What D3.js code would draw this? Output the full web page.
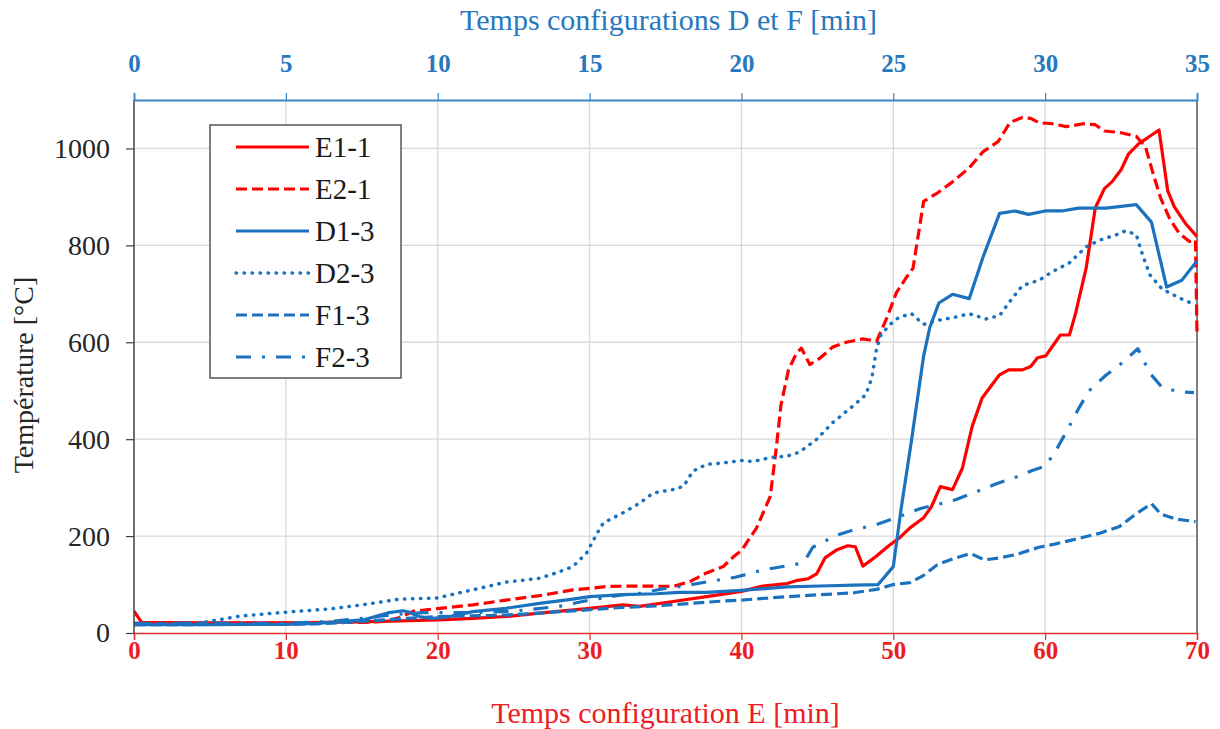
<!DOCTYPE html>
<html><head><meta charset="utf-8">
<script src="https://cdn.jsdelivr.net/npm/d3@7"></script>
<style>body{margin:0;background:#fff}svg{display:block}
svg text{font-family:"Liberation Serif","Times New Roman","DejaVu Serif",serif;}</style>
</head><body><svg id="c" width="1220" height="729"></svg>
<script>
// ---- data ----
// E series: time in "configuration E" minutes (bottom axis)
const E1_1 = [[0,45],[0.5,22],[5,21],[10,21],[15,23],[20,27],[22.3,30],[24.5,34],[26.7,41],[30,51],[32.2,58],[33.3,55],[35.5,65],[37.7,75],[40,86],[41.4,97],[43,102],[43.6,108],[44.4,112],[44.95,122],[45.5,155],[46.3,172],[47,180],[47.5,178],[48,138],[48.9,159],[49.7,180],[50.4,196],[51.1,217],[52,238],[52.5,260],[53.1,302],[53.9,296],[54.55,340],[55.2,427],[55.85,485],[56.97,532],[57.6,543],[58.5,543],[59.05,550],[59.5,568],[60.04,572],[60.6,597],[61,615],[61.6,615],[62,659],[62.7,753],[63.3,877],[63.9,917],[64.4,931],[65,956],[65.5,989],[66.2,1011],[66.75,1022],[67.5,1038],[68.07,913],[68.5,880],[69.27,844],[70,818]];
const E2_1 = [[0,20],[5,20],[10,21],[15,22],[16.5,24],[17.5,32],[18.4,45],[20.15,51],[22.3,58],[24.5,68],[26.7,77],[28.9,89],[30,92],[31.1,96],[33.3,97],[35.5,96],[36.6,106],[37.7,124],[38.8,137],[39.5,158],[40,170],[41,217],[41.9,282],[42.3,383],[42.6,470],[43.1,543],[43.6,576],[43.95,588],[44.5,554],[45.2,568],[46,590],[46.9,600],[48,607],[48.9,602],[49.6,652],[50.2,702],[50.8,731],[51.3,753],[52,891],[52.9,908],[53.9,931],[55,960],[55.9,993],[56.9,1014],[57.7,1054],[58.5,1064],[59.05,1062],[59.6,1053],[60.5,1051],[61.4,1045],[62.5,1051],[63.3,1049],[63.9,1036],[64.9,1033],[66,1025],[66.6,1004],[67.1,949],[67.6,898],[68.2,855],[68.8,826],[69.5,808],[69.9,811],[70,616]];
// D and F series: time in "configurations D et F" minutes (top axis)
const D1_3 = [[0,17],[2.5,17],[5,18],[6,20],[7.55,27],[8.4,42],[8.85,46],[9.05,43],[9.4,34],[9.75,30],[10.25,32],[11.15,44],[12.25,51],[13.35,61],[14.45,70],[15,75],[16.1,79],[17.2,81],[17.95,84],[18.85,84],[20,88],[21.5,95],[22.6,97],[23.7,99],[24.5,100],[25,137],[25.25,253],[25.6,398],[26,572],[26.2,630],[26.5,681],[26.95,699],[27.5,690],[27.95,775],[28.5,866],[29,871],[29.45,864],[30,871],[30.55,871],[31.1,877],[32,877],[33,884],[33.5,848],[34,714],[34.5,728],[35,768]];
const D2_3 = [[0,18],[2.2,21],[3.5,35],[5,43],[6.5,50],[7.5,58],[8.75,70],[9.95,72],[11.15,89],[12.25,105],[13.35,113],[13.9,124],[14.45,137],[14.9,165],[15.25,206],[15.45,227],[16.1,248],[16.65,268],[17.1,289],[17.75,296],[18.1,303],[18.4,334],[18.85,348],[19.4,351],[20,356],[20.4,354],[20.95,362],[21.5,365],[21.9,373],[22.45,398],[23,434],[23.7,470],[24.1,492],[24.3,528],[24.45,587],[24.6,616],[24.9,637],[25.2,652],[25.6,659],[26,637],[26.45,645],[27.05,652],[27.5,659],[28.05,648],[28.5,655],[28.8,681],[29.25,717],[29.8,728],[30.25,746],[30.8,764],[31.35,797],[31.8,811],[32.35,822],[32.65,830],[33,822],[33.2,782],[33.45,739],[33.85,710],[34.4,692],[34.95,677]];
const F1_3 = [[0,17],[5,18],[6,19],[7,22],[8,26],[9,30],[10,34],[12.25,37],[13.35,41],[15,48],[16.1,53],[17.2,56],[18.3,61],[19.4,66],[20,68],[21.5,75],[22.6,79],[23.7,83],[24.45,90],[25,100],[25.55,104],[26,119],[26.45,141],[27.05,155],[27.55,164],[28,151],[28.5,155],[29.05,162],[29.8,177],[30.35,184],[31.1,195],[31.8,206],[32.45,220],[33,246],[33.5,267],[33.8,246],[34.3,235],[34.95,230]];
const F2_3 = [[0,20],[5,20],[6.5,24],[7.5,30],[8.5,38],[9.5,42],[11,42],[12.5,45],[14,55],[15,68],[16.1,79],[16.65,82],[17.5,92],[18,96],[19,107],[19.8,115],[20.7,130],[21.9,143],[22.1,151],[22.35,177],[23.15,202],[23.7,213],[24.45,224],[25.1,238],[25.9,257],[26.5,266],[27.05,275],[27.8,293],[28.35,307],[29.05,322],[29.6,336],[30,344],[30.35,376],[30.8,427],[31.1,463],[31.45,500],[32,532],[32.55,558],[33.05,587],[33.45,536],[33.85,507],[34.4,498],[34.9,496]];

const bottomTicks = [0,10,20,30,40,50,60,70];
const topTicks = [0,5,10,15,20,25,30,35];
const yTicks = [0,200,400,600,800,1000];
const seriesNames = ["E1-1","E2-1","D1-3","D2-3","F1-3","F2-3"];
const seriesAxis = ["bottom","bottom","top","top","top","top"];
const seriesData = [E1_1,E2_1,D1_3,D2_3,F1_3,F2_3];

// ---- styles ----
const RED = "#FF0000", BLUE = "#1B72BF";
const styles = [
  {c:RED, dash:null, cap:"butt"},
  {c:RED, dash:"11 5", cap:"butt"},
  {c:BLUE, dash:null, cap:"butt"},
  {c:BLUE, dash:"0.5 7.5", cap:"round"},
  {c:BLUE, dash:"11 5", cap:"butt"},
  {c:BLUE, dash:"15 11 3 11", cap:"butt"}
];

const L=134, R=1197, T=100, B=633;
const svg = d3.select("#c");
const xB = d3.scaleLinear().domain([0,70]).range([L,R]);
const xT = d3.scaleLinear().domain([0,35]).range([L,R]);
const y = d3.scaleLinear().domain([0,1100]).range([B,T]);

// grid
const g = svg.append("g");
g.selectAll("line.h").data(yTicks.filter(d=>d>0)).join("line")
  .attr("x1",L).attr("x2",R).attr("y1",d=>y(d)).attr("y2",d=>y(d))
  .attr("stroke","#d9d9d9").attr("stroke-width",1.3);
g.selectAll("line.v").data(bottomTicks.filter(d=>d>0&&d<70)).join("line")
  .attr("y1",T).attr("y2",B).attr("x1",d=>xB(d)).attr("x2",d=>xB(d))
  .attr("stroke","#d9d9d9").attr("stroke-width",1.3);

// right border
svg.append("line").attr("x1",R).attr("x2",R).attr("y1",T).attr("y2",B).attr("stroke","#555").attr("stroke-width",1.5);

// lines
svg.append("clipPath").attr("id","clip").append("rect").attr("x",L).attr("y",T-20).attr("width",R-L+2).attr("height",B-T+20);
const lines = svg.append("g").attr("clip-path","url(#clip)");
seriesData.forEach((data,i)=>{
  const xs = seriesAxis[i]==="bottom"?xB:xT;
  const line = d3.line().x(d=>xs(d[0])).y(d=>y(d[1]));
  const st = styles[i];
  lines.append("path").datum(data).attr("d",line)
    .attr("fill","none").attr("stroke",st.c).attr("stroke-width",i===3?3.5:3.2)
    .attr("stroke-dasharray",st.dash).attr("stroke-linecap",st.cap).attr("stroke-linejoin","round");
});

// left axis
const ya = svg.append("g").attr("transform",`translate(${L},0)`)
  .call(d3.axisLeft(y).tickValues(yTicks).tickFormat(d3.format("d")).tickSize(8).tickPadding(16));
ya.attr("font-family",null);
ya.select(".domain").attr("stroke","#404040").attr("stroke-width",1.5).attr("d",`M0,${T}V${B}`);
ya.selectAll(".tick line").attr("stroke","#404040").attr("stroke-width",1.2);
ya.selectAll("text").attr("font-size",28).attr("fill","#262626");

// bottom axis
const xa = svg.append("g").attr("transform",`translate(0,${B})`)
  .call(d3.axisBottom(xB).tickValues(bottomTicks).tickFormat(d3.format("d")).tickSize(7).tickPadding(1));
xa.attr("font-family",null);
xa.select(".domain").attr("stroke","#E03030").attr("stroke-width",1.5);
xa.selectAll(".tick line").attr("stroke","#E03030").attr("stroke-width",1.2);
xa.selectAll("text").attr("font-size",25).attr("font-weight","bold").attr("fill","#EE1C25");

// top axis
const ta = svg.append("g").attr("transform",`translate(0,${T})`)
  .call(d3.axisTop(xT).tickValues(topTicks).tickFormat(d3.format("d")).tickSize(7).tickPadding(21));
ta.attr("font-family",null);
ta.select(".domain").attr("stroke","#3A84C4").attr("stroke-width",1.8);
ta.selectAll(".tick line").attr("stroke","#3A84C4").attr("stroke-width",1.2);
ta.selectAll("text").attr("font-size",25).attr("font-weight","bold").attr("fill","#2878BE");

// titles
svg.append("text").attr("x",(L+R)/2 + 3).attr("y",30).attr("text-anchor","middle")
  .attr("font-size",30).attr("fill","#2878BE").text("Temps configurations D et F [min]");
svg.append("text").attr("x",(L+R)/2).attr("y",723).attr("text-anchor","middle")
  .attr("font-size",30).attr("fill","#EE1C25").text("Temps configuration E [min]");
svg.append("text").attr("transform","translate(33,375) rotate(-90)").attr("text-anchor","middle")
  .attr("font-size",28).attr("fill","#262626").text("Température [°C]");

// legend
const lg = svg.append("g");
lg.append("rect").attr("x",210).attr("y",125).attr("width",191).attr("height",253)
  .attr("fill","#fff").attr("stroke","#555").attr("stroke-width",1.5);
const rowY = d3.scalePoint().domain(seriesNames).range([147,357]);
seriesNames.forEach((n,i)=>{
  const st = styles[i];
  lg.append("line").attr("x1",236).attr("x2",309).attr("y1",rowY(n)).attr("y2",rowY(n))
    .attr("stroke",st.c).attr("stroke-width",i===3?3.5:3.2).attr("stroke-dasharray",st.dash).attr("stroke-linecap",st.cap);
  lg.append("text").attr("x",315).attr("y",rowY(n)+10).attr("font-size",29)
    .attr("fill","#1a1a1a").text(n);
});
</script></body></html>
